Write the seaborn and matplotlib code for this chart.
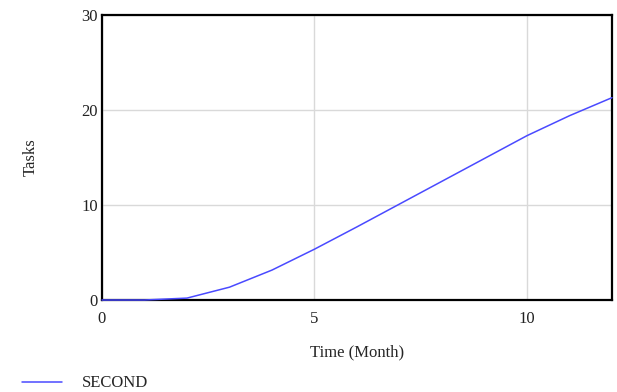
import numpy as np
import pandas as pd
import matplotlib
matplotlib.use('Agg')
import matplotlib.pyplot as plt
import seaborn as sns

# Data
months = [0, 1, 2, 3, 4, 5, 6, 7, 8, 9, 10, 11, 12]
tasks = [0, 0, 0.2, 1.35, 3.15, 5.35, 7.7, 10.1, 12.5, 14.9, 17.3, 19.4, 21.3]
series_name = 'SECOND'

df = pd.DataFrame({'Time': months, 'Tasks': tasks})

sns.set_style('white')
plt.rcParams['font.family'] = ['Liberation Serif', 'DejaVu Serif']

fig = plt.figure(figsize=(6.17, 3.92), dpi=100)
ax = fig.add_axes([0.1653, 0.2347, 0.8266, 0.727])

sns.lineplot(data=df, x='Time', y='Tasks', ax=ax, color='#4a4aff', linewidth=1.1,
             label=series_name, zorder=3, clip_on=False)

ax.set_xlim(0, 12)
ax.set_ylim(0, 30)
ax.set_xticks([0, 5, 10])
ax.set_yticks([0, 10, 20, 30])
ax.grid(True, color='#d9d9d9', linewidth=1)
ax.tick_params(length=0, labelsize=12, pad=3, colors='#222222')
ax.tick_params(axis='x', pad=8)
for s in ax.spines.values():
    s.set_color('black')
    s.set_linewidth(1.6)

ax.set_xlabel('Time (Month)', fontsize=12)
ax.xaxis.set_label_coords(0.5, -0.155)
ax.set_ylabel('Tasks', fontsize=12)
ax.yaxis.set_label_coords(-0.124, 0.5)

ax.legend(loc='center left', bbox_to_anchor=(0.035, 0.022), bbox_transform=fig.transFigure,
          frameon=False, handlelength=2.4, handletextpad=1.2, fontsize=12, borderaxespad=0,
          borderpad=0)

fig.savefig('out.png', dpi=100)
